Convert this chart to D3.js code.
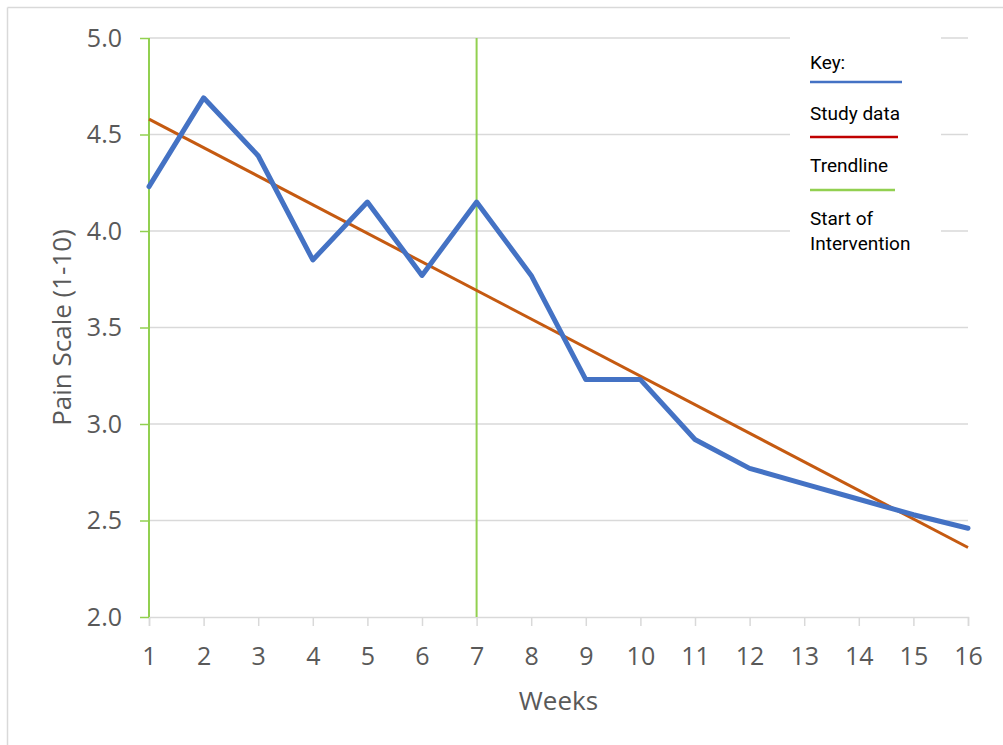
<!DOCTYPE html>
<html>
<head>
<meta charset="utf-8">
<script src="https://cdn.jsdelivr.net/npm/d3@7"></script>
<style>
  html, body { margin: 0; padding: 0; background: #fff; }
  svg { display: block; }
</style>
</head>
<body>
<svg id="chart" width="1003" height="745"></svg>
<script>
const weeks = [1,2,3,4,5,6,7,8,9,10,11,12,13,14,15,16];
const painScores = [4.23,4.69,4.39,3.85,4.15,3.77,4.15,3.77,3.23,3.23,2.92,2.77,2.69,2.61,2.53,2.46];
const trendWeeks = [1, 16];
const trendValues = [4.58, 2.36];
const interventionWeeks = [1, 7];
const yTicks = [2.0,2.5,3.0,3.5,4.0,4.5,5.0];
const legendItems = ["Key:", "Study data", "Trendline", "Start of", "Intervention"];
const legendLineColors = ["#4472C4", "#C00000", "#92D050"];

const svg = d3.select("#chart");
const W = 1003, H = 745;
const m = {left: 149, right: 35, top: 38, bottom: 128};

const x = d3.scaleLinear().domain([1,16]).range([m.left, W - m.right]);
const y = d3.scaleLinear().domain([2,5]).range([H - m.bottom, m.top]);

// outer border (top and left visible)
svg.append("line").attr("x1",7.5).attr("x2",W).attr("y1",7.5).attr("y2",7.5)
  .attr("stroke","#d9d9d9").attr("stroke-width",1.5);
svg.append("line").attr("x1",7.5).attr("x2",7.5).attr("y1",7.5).attr("y2",H)
  .attr("stroke","#d9d9d9").attr("stroke-width",1.5);

const fontTick = "'Open Sans', 'Noto Sans', sans-serif";

// gridlines
svg.append("g").selectAll("line").data(yTicks.filter(d=>d>2)).join("line")
  .attr("x1", x(1)).attr("x2", x(16))
  .attr("y1", d=>y(d)).attr("y2", d=>y(d))
  .attr("stroke","#d9d9d9").attr("stroke-width",1.5);

// x axis
const xAxis = d3.axisBottom(x).tickValues(weeks).tickSize(9).tickPadding(21).tickFormat(d3.format("d"));
const gx = svg.append("g").attr("transform",`translate(0,${y(2)})`).call(xAxis);
gx.select(".domain").attr("stroke","#d9d9d9").attr("stroke-width",1.5);
gx.selectAll(".tick line").attr("stroke","#d9d9d9").attr("stroke-width",1.5);
gx.selectAll("text").attr("fill","#595959").style("font-family",fontTick).style("font-size","25px");

// y axis
const yAxis = d3.axisLeft(y).tickValues(yTicks).tickSize(9).tickPadding(18).tickFormat(d3.format(".1f"));
const gy = svg.append("g").attr("transform",`translate(${x(1)},0)`).call(yAxis);
gy.select(".domain").remove();
gy.selectAll(".tick line").attr("stroke","#92D050").attr("stroke-width",1.5);
gy.selectAll("text").attr("fill","#595959").style("font-family",fontTick).style("font-size","25px");

// intervention lines
svg.append("g").selectAll("line").data(interventionWeeks).join("line")
  .attr("x1", d=>x(d)).attr("x2", d=>x(d))
  .attr("y1", y(5)).attr("y2", y(2))
  .attr("stroke","#92D050").attr("stroke-width",2);

// trendline
const lineGen = d3.line().x(d=>x(d[0])).y(d=>y(d[1]));
svg.append("path").datum(d3.zip(trendWeeks, trendValues))
  .attr("d", lineGen).attr("fill","none")
  .attr("stroke","#C55A11").attr("stroke-width",3);

// study data
svg.append("path").datum(d3.zip(weeks, painScores))
  .attr("d", lineGen).attr("fill","none")
  .attr("stroke","#4472C4").attr("stroke-width",5)
  .attr("stroke-linejoin","round").attr("stroke-linecap","round");

// axis titles
svg.append("text").attr("x", (x(1)+x(16))/2).attr("y", 700)
  .attr("text-anchor","middle").attr("dominant-baseline","central")
  .attr("fill","#595959").style("font-family",fontTick).style("font-size","26px")
  .text("Weeks");
svg.append("text").attr("transform",`translate(61,${(y(2)+y(5))/2}) rotate(-90)`)
  .attr("text-anchor","middle").attr("dominant-baseline","central")
  .attr("fill","#595959").style("font-family",fontTick).style("font-size","26px")
  .text("Pain Scale (1-10)");

// legend
const lg = svg.append("g");
lg.append("rect").attr("x",790).attr("y",30).attr("width",151).attr("height",232).attr("fill","#fff");
const legFont = "Roboto, 'Noto Sans', sans-serif";
const textY = [62, 113, 165, 218, 243];
lg.selectAll("text").data(legendItems).join("text")
  .attr("x", 810).attr("y", (d,i)=>textY[i])
  .attr("dominant-baseline","central")
  .attr("fill","#000").style("font-family",legFont).style("font-size","19px")
  .text(d=>d);
const lineY = [82, 137, 190];
const lineX2 = [902, 898, 895];
lg.selectAll("line").data(legendLineColors).join("line")
  .attr("x1", 810).attr("x2", (d,i)=>lineX2[i])
  .attr("y1", (d,i)=>lineY[i]).attr("y2", (d,i)=>lineY[i])
  .attr("stroke", d=>d).attr("stroke-width",2.5);
</script>
</body>
</html>
